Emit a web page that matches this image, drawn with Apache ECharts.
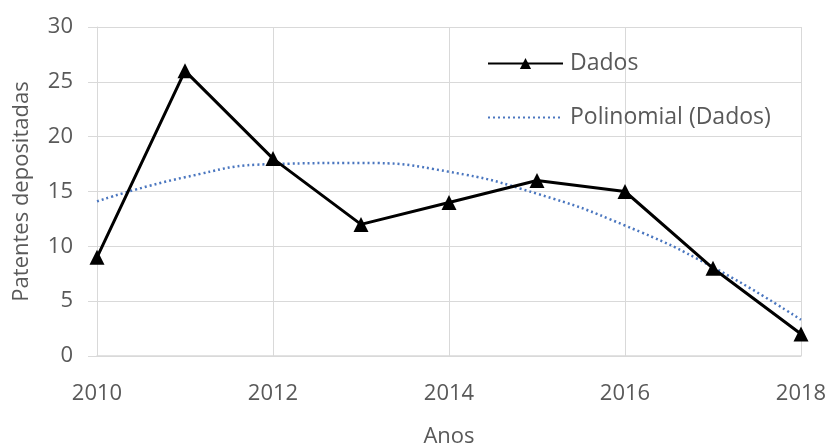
<!DOCTYPE html>
<html>
<head>
<meta charset="utf-8">
<script src="https://cdn.jsdelivr.net/npm/echarts@6/dist/echarts.min.js"></script>
<style>
  html, body { margin: 0; padding: 0; background: #fff; }
  #chart { width: 830px; height: 443px; }
</style>
</head>
<body>
<div id="chart"></div>
<script>
// Patentes depositadas por ano
const anos = [2010, 2011, 2012, 2013, 2014, 2015, 2016, 2017, 2018];
const dados = [9, 26, 18, 12, 14, 16, 15, 8, 2];
// Linha de tendência polinomial (2ª ordem)
const tendencia = [14.1, 16.3, 17.5, 17.6, 16.8, 14.8, 11.9, 8.1, 3.3];
const yTicks = [0, 5, 10, 15, 20, 25, 30];

const FONT = 'Open Sans';
const GRAY_TEXT = '#595959';
const GRID = '#d9d9d9';
const FS = 22;

const chart = echarts.init(document.getElementById('chart'), null, { renderer: 'canvas' });
chart.setOption({
  animation: false,
  backgroundColor: '#fff',
  textStyle: { fontFamily: FONT },
  grid: {
    left: 97, right: 29, top: 27, bottom: 87,
    containLabel: false,
    outerBoundsMode: 'none'
  },
  legend: {
    orient: 'vertical',
    left: 482,
    top: 47,
    itemGap: 31,
    itemWidth: 75,
    itemHeight: 14,
    textStyle: { fontFamily: FONT, fontSize: 23, color: GRAY_TEXT, padding: [0, 0, 0, 2] },
    data: [
      { name: 'Dados' },
      { name: 'Polinomial (Dados)', itemStyle: { opacity: 0 } }
    ]
  },
  xAxis: {
    type: 'value',
    min: 2010,
    max: 2018,
    interval: 2,
    name: 'Anos',
    nameLocation: 'middle',
    nameGap: 70,
    nameTextStyle: { fontFamily: FONT, fontSize: 22, color: GRAY_TEXT },
    axisLine: { show: true, lineStyle: { color: GRID, width: 1.5 } },
    axisTick: { show: false },
    splitLine: { show: true, lineStyle: { color: GRID, width: 1 } },
    axisLabel: {
      fontFamily: FONT, fontSize: FS, color: GRAY_TEXT, margin: 27,
      formatter: v => String(v)
    }
  },
  yAxis: {
    type: 'value',
    min: yTicks[0],
    max: yTicks[yTicks.length - 1],
    interval: 5,
    name: 'Patentes depositadas',
    nameLocation: 'middle',
    nameGap: 64,
    nameTextStyle: { fontFamily: FONT, fontSize: 22, color: GRAY_TEXT },
    axisLine: { show: true, lineStyle: { color: GRID, width: 1 } },
    axisTick: { show: true, length: 9, lineStyle: { color: GRID } },
    splitLine: { show: true, lineStyle: { color: GRID, width: 1 } },
    axisLabel: { fontFamily: FONT, fontSize: FS, color: GRAY_TEXT, margin: 24 }
  },
  series: [
    {
      name: 'Polinomial (Dados)',
      type: 'line',
      smooth: 0.5,
      symbol: 'none',
      data: anos.map((a, i) => [a, tendencia[i]]),
      lineStyle: { color: '#4a76bf', width: 2.5, type: [2, 3] },
      itemStyle: { color: '#4a76bf' },
      z: 2
    },
    {
      name: 'Dados',
      type: 'line',
      symbol: 'triangle',
      symbolSize: 15,
      data: anos.map((a, i) => [a, dados[i]]),
      lineStyle: { color: '#000', width: 3 },
      itemStyle: { color: '#000' },
      z: 3
    }
  ]
});
</script>
</body>
</html>
